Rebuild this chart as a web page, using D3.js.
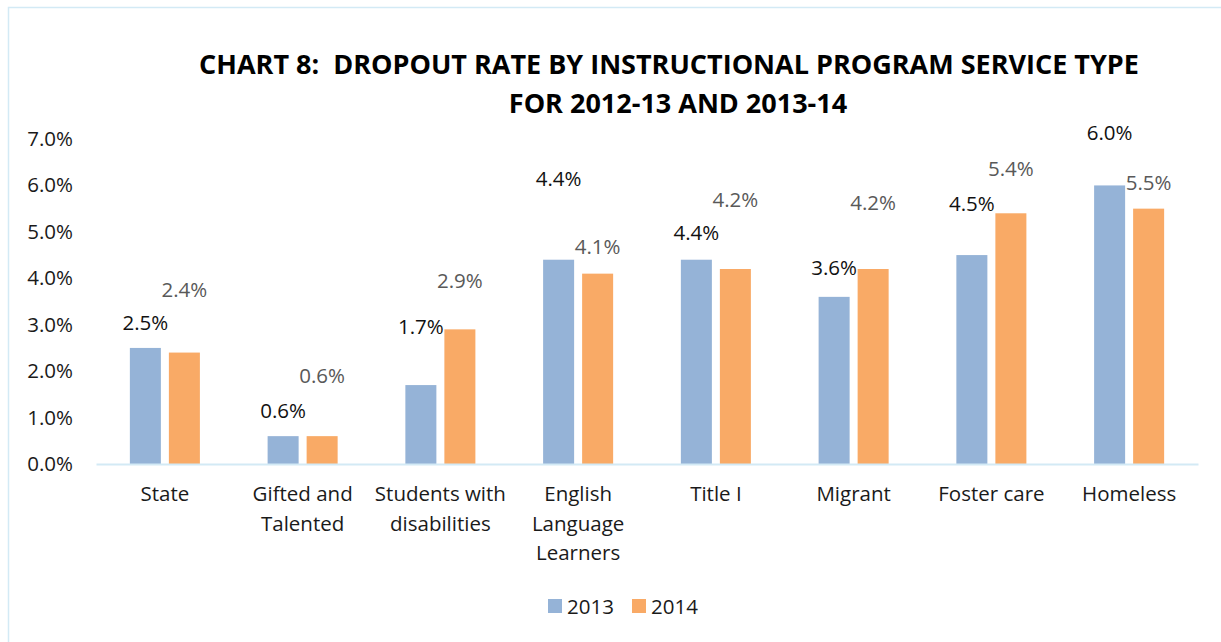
<!DOCTYPE html>
<html><head><meta charset="utf-8">
<script src="https://cdn.jsdelivr.net/npm/d3@7"></script>
<style>body{margin:0;background:#fff;} svg{display:block;} text{white-space:pre;}</style>
</head><body>
<svg id="c" width="1221" height="642"></svg>
<script>
const categories = ["State","Gifted and Talented","Students with disabilities","English Language Learners","Title I","Migrant","Foster care","Homeless"];
const categoryLines = [["State"],["Gifted and","Talented"],["Students with","disabilities"],["English","Language","Learners"],["Title I"],["Migrant"],["Foster care"],["Homeless"]];
const series = ["2013","2014"];
const values2013 = [0.025,0.006,0.017,0.044,0.044,0.036,0.045,0.060];
const values2014 = [0.024,0.006,0.029,0.041,0.042,0.042,0.054,0.055];
const yTicks = [0,0.01,0.02,0.03,0.04,0.05,0.06,0.07];
const titleLines = ["CHART 8:  DROPOUT RATE BY INSTRUCTIONAL PROGRAM SERVICE TYPE","FOR 2012-13 AND 2013-14"];
// manual label lift above bar top (px), as placed in the original
const lift2013 = [25,25,58,81,27,29,51,52];
const lift2014 = [63,60,48,27,69,66,44,26];

const colors = {"2013":"#95B3D7","2014":"#F9AA66"};
const font = "'Open Sans', sans-serif";
const fs = 20.5;
const svg = d3.select("#c");

// border
svg.append("rect").attr("x",8.5).attr("y",7.5).attr("width",1240).attr("height",700)
  .attr("fill","none").attr("stroke","#D3EAF5").attr("stroke-width",1.5);

const x0 = d3.scaleBand().domain(categories).range([96,1198]).paddingInner(0).paddingOuter(0);
const x1 = d3.scaleBand().domain(series).range([0,x0.bandwidth()]).paddingInner(0.205).paddingOuter(0.868);
const y = d3.scaleLinear().domain([0,0.07]).range([464,139]);

// title
svg.append("g").selectAll("text").data(titleLines).join("text")
  .attr("x",(d,i)=> i===0?669:678).attr("y",(d,i)=>73.5+i*39)
  .attr("text-anchor","middle").attr("font-family",font).attr("font-weight","bold")
  .attr("font-size",27).attr("fill","#000").text(d=>d);

// y axis labels
const yAxis = d3.axisLeft(y).tickValues(yTicks).tickFormat(d3.format(".1%")).tickSize(0).tickPadding(0);
const gy = svg.append("g").attr("transform","translate(73,0)").call(yAxis);
gy.select(".domain").remove();
gy.selectAll("text").attr("font-family",font).attr("font-size",fs).attr("fill","#1a1a1a");

// bars
const data = categories.map((c,i)=>({c,i,v:[values2013[i],values2014[i]]}));
const g = svg.append("g");
const groups = g.selectAll("g").data(data).join("g").attr("transform",d=>`translate(${x0(d.c)},0)`);
groups.selectAll("rect").data(d=>series.map((s,k)=>({s,v:d.v[k]}))).join("rect")
  .attr("x",d=>x1(d.s)).attr("width",x1.bandwidth())
  .attr("y",d=>y(d.v)).attr("height",d=>y(0)-y(d.v)).attr("fill",d=>colors[d.s]);

// labels
groups.append("text").attr("x",x1("2013")+x1.bandwidth()/2)
  .attr("y",d=>y(d.v[0])-lift2013[d.i]+7).attr("text-anchor","middle")
  .attr("font-family",font).attr("font-size",fs).attr("fill","#111")
  .text(d=>d3.format(".1%")(d.v[0]));
groups.append("text").attr("x",x1("2014")+x1.bandwidth()/2)
  .attr("y",d=>y(d.v[1])-lift2014[d.i]+7).attr("text-anchor","middle")
  .attr("font-family",font).attr("font-size",fs).attr("fill","#595959")
  .text(d=>d3.format(".1%")(d.v[1]));

// x axis
const xAxis = d3.axisBottom(x0).tickSize(0).tickFormat("");
const gx = svg.append("g").attr("transform",`translate(0,${y(0)})`).call(xAxis);
gx.select(".domain").attr("stroke","#D3EAF5").attr("stroke-width",2);
gx.selectAll(".tick").each(function(d,i){
  const t = d3.select(this).append("text").attr("text-anchor","middle")
    .attr("font-family",font).attr("font-size",fs).attr("fill","#1a1a1a");
  categoryLines[i].forEach((ln,j)=>t.append("tspan").attr("x",0).attr("y",37+j*29.5).text(ln));
});

// legend
const legend = svg.append("g");
const lx = [548,632];
series.forEach((s,k)=>{
  legend.append("rect").attr("x",lx[k]).attr("y",599).attr("width",14).attr("height",14).attr("fill",colors[s]);
  legend.append("text").attr("x",lx[k]+19).attr("y",614).attr("font-family",font).attr("font-size",fs).attr("fill","#1a1a1a").text(s);
});
</script>
</body></html>
